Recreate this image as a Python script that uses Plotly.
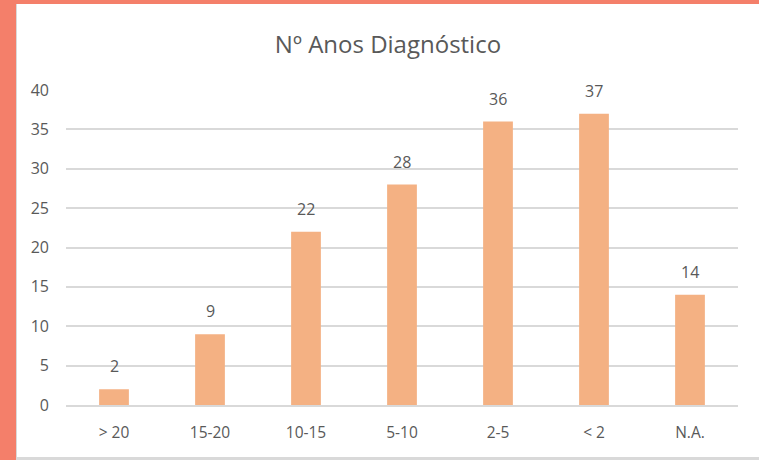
import plotly.graph_objects as go

categories = ["> 20", "15-20", "10-15", "5-10", "2-5", "< 2", "N.A."]
values = [2, 9, 22, 28, 36, 37, 14]

W, H = 759, 460
L, R, T, B = 66, 21, 90, 55
pw, ph = W - L - R, H - T - B

def px_x(p):
    return (p - L) / pw

def px_y(p):
    return (H - B - p) / ph

font_fam = "Open Sans, Liberation Sans, sans-serif"
txt = "#595959"

fig = go.Figure(go.Bar(
    x=categories, y=values,
    marker=dict(color="#F4B183", line=dict(width=0)),
    width=0.31,
    cliponaxis=False,
))

for c, v in zip(categories, values):
    fig.add_annotation(x=c, y=v, text=str(v), showarrow=False,
                       yanchor="bottom", yshift=10,
                       font=dict(size=16, color=txt, family=font_fam))

fig.update_layout(
    width=W, height=H,
    margin=dict(l=L, r=R, t=T, b=B),
    paper_bgcolor="#F47F6A",
    plot_bgcolor="rgba(0,0,0,0)",
    showlegend=False,
    title=dict(text="Nº Anos Diagnóstico", x=(388) / W, xanchor="center",
               y=1 - 45 / H, yanchor="middle",
               font=dict(size=24, color=txt, family=font_fam)),
    shapes=[
        dict(type="rect", xref="paper", yref="paper", layer="below",
             x0=px_x(16), x1=px_x(760), y0=px_y(461), y1=px_y(4),
             fillcolor="#D9D9D9", line=dict(width=0)),
        dict(type="rect", xref="paper", yref="paper", layer="below",
             x0=px_x(17), x1=px_x(760), y0=px_y(457), y1=px_y(4),
             fillcolor="white", line=dict(width=0)),
    ],
    xaxis=dict(showgrid=False, showline=True, linecolor="#D9D9D9", linewidth=1.5,
               ticks="", ticklabelstandoff=13,
               tickfont=dict(size=15.5, color=txt, family=font_fam)),
    yaxis=dict(range=[0, 40], dtick=5, showgrid=True, gridcolor="#D9D9D9", gridwidth=1.5,
               zeroline=False, showline=False, ticks="", ticklabelstandoff=16,
               tickfont=dict(size=16, color=txt, family=font_fam)),
)

fig.write_html("out.html", config={"displayModeBar": False},
               post_script="document.body.style.margin='0';document.body.style.overflow='hidden';")
